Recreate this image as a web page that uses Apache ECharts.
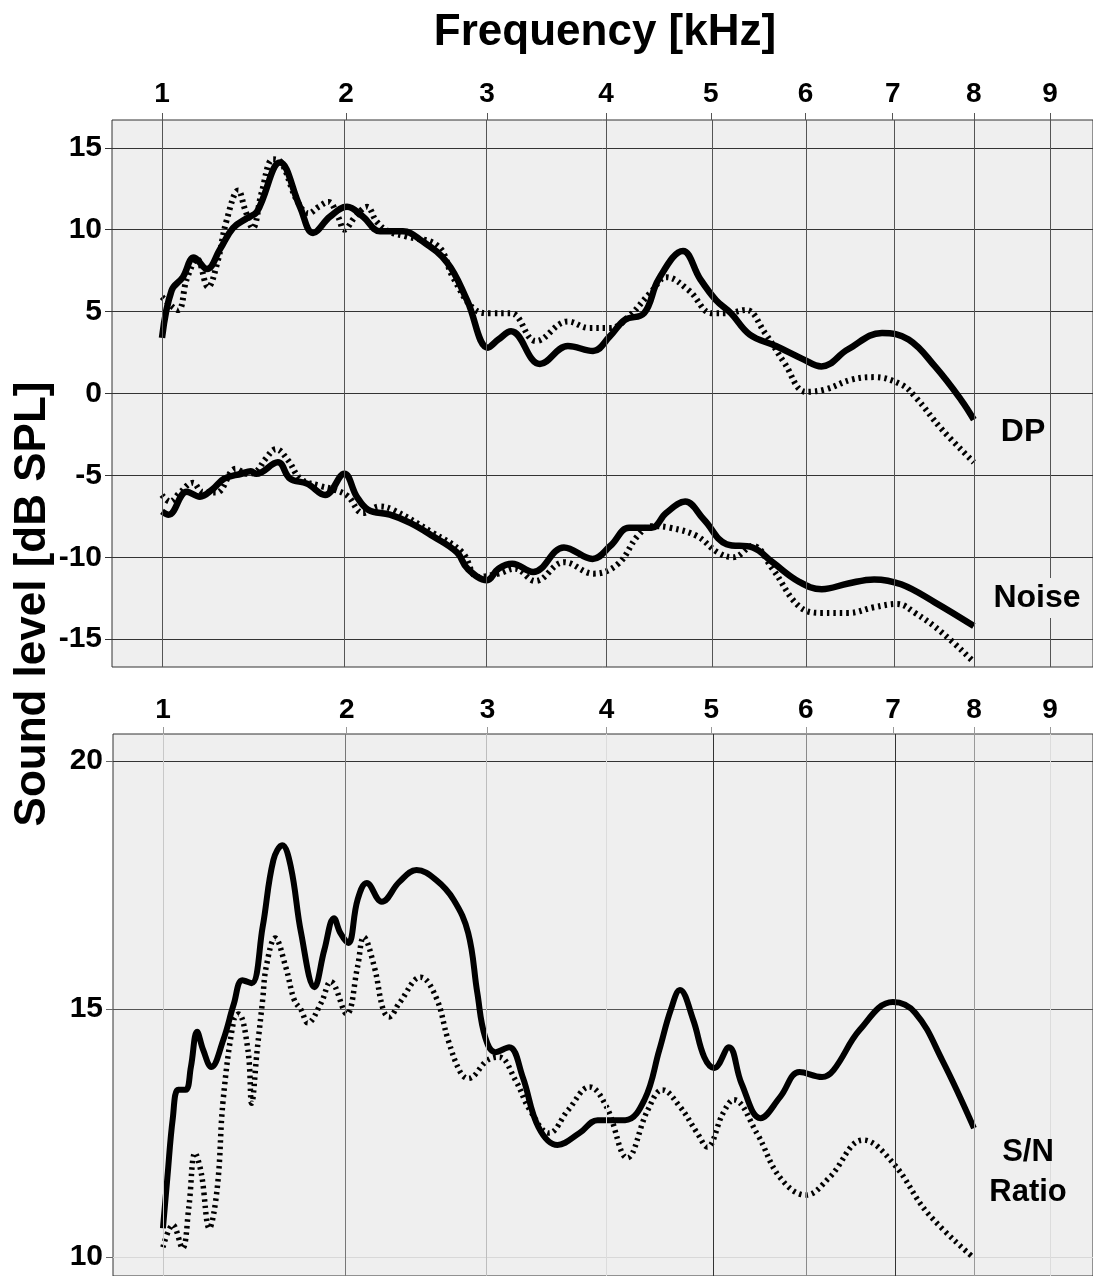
<!DOCTYPE html>
<html><head><meta charset="utf-8">
<script src="https://cdn.jsdelivr.net/npm/echarts@6/dist/echarts.min.js"></script>
<style>html,body{margin:0;padding:0;background:#fff}#c{width:1093px;height:1276px}</style>
</head><body><div id="c"></div>
<script>
// ---- tick labels ----
const freqTicks = [1, 2, 3, 4, 5, 6, 7, 8, 9];
const topYTicks = [-15, -10, -5, 0, 5, 10, 15];
const botYTicks = [10, 15, 20];

// ---- DP (top panel) ----
const dpSolidF = [1.0, 1.044, 1.096, 1.149, 1.213, 1.278, 1.345, 1.419, 1.474, 1.602, 1.718, 1.796, 1.900, 2.007, 2.110, 2.223, 2.380, 2.500, 2.696, 2.846, 3.007, 3.09, 3.19, 3.427, 3.664, 3.884, 4.036, 4.173, 4.35, 4.49, 4.724, 4.892, 5.052, 5.205, 5.40, 5.677, 5.97, 6.176, 6.478, 6.873, 7.19, 7.513, 7.84, 8.0];
const dpSolidV = [3.4, 6.3, 7.1, 8.3, 7.6, 8.8, 10.1, 10.7, 11.1, 14.1, 11.4, 9.8, 10.8, 11.4, 10.8, 9.9, 9.9, 9.4, 8.0, 5.7, 2.8, 3.3, 3.8, 1.8, 2.9, 2.6, 3.5, 4.5, 4.9, 7.0, 8.7, 7.0, 5.7, 4.9, 3.6, 2.9, 2.1, 1.65, 2.7, 3.7, 3.3, 1.65, -0.4, -1.6];
const dpDotF = [1.0, 1.073, 1.115, 1.165, 1.218, 1.265, 1.313, 1.373, 1.41, 1.45, 1.50, 1.563, 1.61, 1.70, 1.77, 1.83, 1.89, 1.95, 1.99, 2.06, 2.137, 2.2, 2.28, 2.4, 2.63, 2.74, 2.91, 3.03, 3.19, 3.393, 3.664, 3.85, 4.04, 4.206, 4.416, 4.563, 4.78, 5.013, 5.16, 5.36, 5.56, 5.765, 6.005, 6.22, 6.52, 6.78, 7.10, 7.27, 7.6, 8.0];
const dpDotV = [5.9, 5.1, 7.0, 8.2, 6.5, 8.0, 10.6, 12.4, 11.2, 10.1, 12.3, 14.3, 14.1, 11.8, 11.0, 11.4, 11.7, 10.8, 10.0, 10.8, 11.4, 10.5, 9.9, 9.6, 9.0, 7.1, 5.1, 4.9, 4.9, 3.2, 4.4, 4.0, 4.0, 4.7, 6.2, 7.1, 6.3, 4.9, 4.9, 5.1, 3.7, 1.9, 0.1, 0.25, 0.85, 1.0, 0.55, -0.2, -2.2, -4.2];

// ---- Noise (top panel) ----
const noiseSolidF = [1.0, 1.03, 1.115, 1.178, 1.24, 1.30, 1.39, 1.44, 1.47, 1.59, 1.66, 1.76, 1.87, 1.99, 2.07, 2.145, 2.29, 2.43, 2.59, 2.77, 2.85, 3.0, 3.09, 3.2, 3.37, 3.63, 3.88, 4.04, 4.21, 4.42, 4.56, 4.745, 4.93, 5.16, 5.43, 5.64, 5.93, 6.18, 6.48, 6.78, 7.10, 7.51, 8.0];
const noiseSolidV = [-7.2, -7.4, -6.0, -6.3, -5.85, -5.2, -4.9, -4.75, -4.9, -4.2, -5.2, -5.5, -6.2, -4.9, -6.3, -7.1, -7.4, -7.9, -8.7, -9.7, -10.7, -11.4, -10.7, -10.4, -10.9, -9.4, -10.1, -9.3, -8.2, -8.2, -7.3, -6.6, -7.7, -9.2, -9.4, -10.3, -11.5, -11.95, -11.6, -11.35, -11.65, -12.75, -14.2];
const noiseDotF = [1.0, 1.036, 1.082, 1.144, 1.19, 1.26, 1.36, 1.42, 1.47, 1.52, 1.58, 1.65, 1.72, 1.84, 1.92, 2.01, 2.11, 2.22, 2.31, 2.59, 2.81, 2.93, 3.09, 3.22, 3.39, 3.63, 3.89, 4.11, 4.29, 4.42, 4.6, 4.86, 5.07, 5.23, 5.43, 5.64, 5.93, 6.18, 6.48, 6.78, 7.05, 7.27, 7.6, 8.0];
const noiseDotV = [-6.2, -6.6, -6.05, -5.45, -6.0, -6.05, -4.6, -4.9, -4.75, -4.0, -3.4, -4.1, -5.2, -5.65, -5.85, -6.25, -7.3, -6.9, -7.1, -8.5, -9.7, -11.2, -11.0, -10.7, -11.45, -10.3, -11.0, -10.4, -8.7, -8.1, -8.2, -8.7, -9.7, -10.0, -9.3, -10.7, -13.0, -13.4, -13.4, -13.05, -12.85, -13.4, -14.6, -16.4];

// ---- S/N ratio (bottom panel) ----
const snSolidF = [1.0, 1.02, 1.045, 1.07, 1.105, 1.13, 1.16, 1.19, 1.23, 1.29, 1.345, 1.39, 1.44, 1.50, 1.56, 1.61, 1.66, 1.72, 1.80, 1.86, 1.92, 1.96, 2.01, 2.07, 2.13, 2.23, 2.35, 2.47, 2.61, 2.74, 2.85, 2.92, 2.98, 3.06, 3.17, 3.28, 3.41, 3.57, 3.76, 3.92, 4.17, 4.35, 4.49, 4.6, 4.69, 4.82, 4.93, 5.03, 5.18, 5.31, 5.51, 5.72, 5.93, 6.18, 6.31, 6.61, 7.0, 7.27, 7.6, 8.0];
const snSolidV = [10.58, 11.6, 12.8, 13.37, 13.37, 13.83, 14.54, 14.17, 13.83, 14.37, 15.1, 15.58, 15.52, 16.65, 18.0, 18.3, 17.86, 16.53, 15.44, 16.19, 16.83, 16.53, 16.33, 17.2, 17.54, 17.16, 17.56, 17.8, 17.6, 17.2, 16.53, 15.32, 14.44, 14.13, 14.23, 13.63, 12.62, 12.26, 12.5, 12.76, 12.76, 13.17, 14.17, 14.98, 15.38, 14.78, 14.03, 13.81, 14.23, 13.5, 12.8, 13.23, 13.73, 13.63, 13.77, 14.58, 15.14, 14.92, 13.97, 12.6];
const snDotF = [1.0, 1.045, 1.09, 1.12, 1.15, 1.18, 1.22, 1.26, 1.29, 1.345, 1.37, 1.42, 1.44, 1.47, 1.50, 1.52, 1.57, 1.63, 1.68, 1.72, 1.76, 1.84, 1.90, 2.0, 2.07, 2.11, 2.18, 2.24, 2.28, 2.35, 2.50, 2.61, 2.70, 2.79, 2.85, 3.0, 3.09, 3.22, 3.34, 3.5, 3.66, 3.85, 4.0, 4.19, 4.38, 4.52, 4.69, 4.86, 4.96, 5.12, 5.23, 5.47, 5.72, 6.0, 6.26, 6.65, 7.0, 7.42, 8.0];
const snDotV = [10.2, 10.65, 10.18, 11.0, 12.1, 11.7, 10.58, 11.4, 13.17, 14.78, 14.9, 14.17, 13.1, 14.17, 15.18, 15.85, 16.43, 15.85, 15.18, 14.98, 14.72, 15.12, 15.55, 14.9, 15.85, 16.45, 15.85, 14.98, 14.84, 15.12, 15.64, 15.24, 14.37, 13.73, 13.6, 13.97, 14.03, 13.57, 12.96, 12.5, 12.96, 13.43, 13.03, 12.0, 12.96, 13.37, 13.03, 12.5, 12.22, 12.9, 13.17, 12.5, 11.6, 11.25, 11.6, 12.36, 11.9, 10.89, 9.98];

// frequency axis uses a square-root scale (as in the original figure)
const toX = f => Math.sqrt(f);
const pairs = (F, V) => F.map((f, i) => [toX(f), V[i]]);
const xTickPos = freqTicks.map(toX);
const X_MIN = 0.8874, X_MAX = 3.0968;

const FONT = '"Liberation Sans", Arial, sans-serif';
const topVColors = freqTicks.map(() => '#555');
const botVColors = ['#c8c8c8', '#777', '#bdbdbd', '#dcdcdc', '#333', '#8a8a8a', '#333', '#999', '#dcdcdc'];

function xAxisFor(gi, margin, tickColor) {
  return {
    gridIndex: gi, type: 'value', position: 'top', min: X_MIN, max: X_MAX,
    axisLine: { show: false, onZero: false },
    axisTick: { show: true, length: 7, customValues: xTickPos, lineStyle: { color: tickColor, width: 1 } },
    axisLabel: {
      customValues: xTickPos, margin: margin, color: '#000', fontSize: 28, fontWeight: 'bold', fontFamily: FONT,
      formatter: v => String(freqTicks[xTickPos.findIndex(p => Math.abs(p - v) < 1e-6)])
    },
    splitLine: { show: false }
  };
}
function vGrid(gi, colors) {
  return {
    type: 'line', xAxisIndex: gi, yAxisIndex: gi, data: [], z: 1, silent: true,
    markLine: {
      silent: true, symbol: ['none', 'none'], label: { show: false }, animation: false,
      data: xTickPos.map((p, i) => ({ xAxis: p, lineStyle: { color: colors[i], width: 1, type: 'solid' } }))
    }
  };
}
function solid(gi, F, V, w) {
  return { type: 'line', xAxisIndex: gi, yAxisIndex: gi, data: pairs(F, V), showSymbol: false, smooth: 0.4, z: 4,
    lineStyle: { color: '#000', width: w, cap: 'butt', join: 'round' } };
}
function dotted(gi, F, V, w) {
  return { type: 'line', xAxisIndex: gi, yAxisIndex: gi, data: pairs(F, V), showSymbol: false, smooth: 0.4, z: 3,
    lineStyle: { color: '#000', width: w, type: [2.5, 4], cap: 'butt' } };
}

const chart = echarts.init(document.getElementById('c'), null, { renderer: 'canvas' });
chart.setOption({
  animation: false,
  backgroundColor: '#fff',
  grid: [
    { left: 112, top: 120, width: 983, height: 547, show: true, backgroundColor: '#efefef', borderColor: '#333', borderWidth: 1 },
    { left: 113, top: 734, width: 982, height: 545, show: true, backgroundColor: '#efefef', borderColor: '#333', borderWidth: 1 }
  ],
  xAxis: [xAxisFor(0, 12, '#555'), xAxisFor(1, 10, '#999')],
  yAxis: [
    { gridIndex: 0, type: 'value', min: -16.7, max: 16.7,
      axisLine: { show: false, onZero: false },
      axisTick: { show: true, length: 7, customValues: topYTicks, lineStyle: { color: '#333' } },
      axisLabel: { customValues: topYTicks, margin: 10, color: '#000', fontSize: 30, fontWeight: 'bold', fontFamily: FONT },
      splitLine: { show: true, lineStyle: { color: '#333', width: 1 } } },
    { gridIndex: 1, type: 'value', min: 9.62, max: 20.54,
      axisLine: { show: false, onZero: false },
      axisTick: { show: true, length: 7, customValues: botYTicks, lineStyle: { color: '#666' } },
      axisLabel: { customValues: botYTicks, margin: 10, color: '#000', fontSize: 30, fontWeight: 'bold', fontFamily: FONT },
      splitLine: { show: true, lineStyle: { color: ['#d8d8d8', '#555', '#333'], width: 1 } } }
  ],
  series: [
    vGrid(0, topVColors),
    vGrid(1, botVColors),
    dotted(0, dpDotF, dpDotV, 6),
    solid(0, dpSolidF, dpSolidV, 6.5),
    dotted(0, noiseDotF, noiseDotV, 6),
    solid(0, noiseSolidF, noiseSolidV, 6.5),
    dotted(1, snDotF, snDotV, 5.5),
    solid(1, snSolidF, snSolidV, 6)
  ],
  graphic: [
    { type: 'text', z: 100, style: { text: 'Frequency [kHz]', x: 605, y: 33, align: 'center', verticalAlign: 'middle', font: 'bold 44px ' + FONT, fill: '#000' } },
    { type: 'text', z: 100, x: 33, y: 604, rotation: Math.PI / 2, style: { text: 'Sound level [dB SPL]', x: 0, y: 0, align: 'center', verticalAlign: 'middle', font: 'bold 44px ' + FONT, fill: '#000' } },
    { type: 'text', z: 100, style: { text: 'DP', x: 1023, y: 432, align: 'center', verticalAlign: 'middle', font: 'bold 32px ' + FONT, fill: '#000' } },
    { type: 'text', z: 100, style: { text: 'Noise', x: 1037, y: 598, align: 'center', verticalAlign: 'middle', font: 'bold 32px ' + FONT, fill: '#000', backgroundColor: '#efefef', padding: [4, 2] } },
    { type: 'text', z: 100, style: { text: 'S/N\nRatio', x: 1028, y: 1172, align: 'center', verticalAlign: 'middle', font: 'bold 31px ' + FONT, lineHeight: 40, fill: '#000' } }
  ]
});
</script>
</body></html>
